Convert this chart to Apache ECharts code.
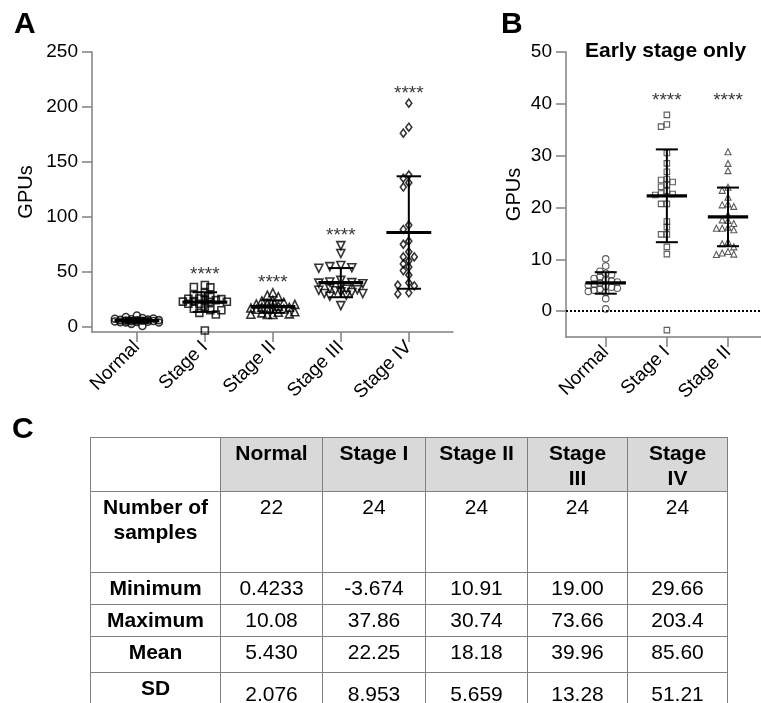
<!DOCTYPE html>
<html>
<head>
<meta charset="utf-8">
<script src="https://cdn.jsdelivr.net/npm/echarts@6/dist/echarts.min.js"></script>
<style>
html,body{margin:0;padding:0;background:#fff;width:761px;height:703px;overflow:hidden;}
#chart{position:absolute;left:0;top:0;width:761px;height:703px;}
#tbl{position:absolute;left:90px;top:437px;border-collapse:collapse;table-layout:fixed;
  font-family:'Liberation Sans',Arial,Helvetica,sans-serif;font-size:21px;color:#000;}
#tbl td{border:1px solid #808080;text-align:center;vertical-align:top;padding:2px 12px 0 12px;line-height:25px;}
#tbl td.hd{background:#d9d9d9;font-weight:bold;}
#tbl td.lb{font-weight:bold;padding-left:4px;padding-right:4px;}
#tbl td.sdv{padding-top:8px;}
</style>
</head>
<body>
<div id="chart"></div>
<table id="tbl"></table>
<script>
// ---------------- data ----------------
const categories = ['Normal', 'Stage I', 'Stage II', 'Stage III', 'Stage IV'];
const normal = [10.08, 8.7, 7.7, 7.3, 7.0, 6.6, 6.3, 6.0, 5.8, 5.6, 5.4, 5.2, 5.0, 4.8, 4.6, 4.4, 4.2, 4.0, 3.8, 3.6, 2.4, 0.4233];
const stage1 = [37.86, 36.0, 35.6, 30.5, 28.5, 26.9, 25.5, 25.3, 24.9, 24.4, 24.0, 23.2, 22.7, 22.6, 22.4, 20.7, 20.7, 17.3, 16.2, 14.8, 14.8, 12.4, 11.0, -3.674];
const stage2 = [30.74, 28.5, 27.1, 23.9, 23.3, 22.0, 20.7, 20.5, 20.2, 18.6, 17.6, 17.5, 16.9, 16.2, 16.0, 16.0, 15.7, 13.4, 13.0, 12.4, 11.5, 11.2, 11.0, 10.91];
const stage3 = [73.66, 66.5, 55.5, 54.5, 53.5, 53.0, 42.0, 40.5, 40.0, 39.5, 39.0, 36.5, 34.5, 34.0, 33.5, 33.0, 32.5, 31.5, 31.0, 30.0, 30.0, 28.5, 27.5, 19.0];
const stage4 = [203.4, 181.5, 176.1, 138.0, 135.0, 131.0, 127.0, 92.4, 88.4, 77.8, 74.9, 68.0, 63.4, 63.4, 59.8, 57.0, 54.3, 50.9, 46.9, 39.8, 37.7, 37.0, 30.7, 29.66];

const nSamples = ['22', '24', '24', '24', '24'];
const minimum = ['0.4233', '-3.674', '10.91', '19.00', '29.66'];
const maximum = ['10.08', '37.86', '30.74', '73.66', '203.4'];
const meanVals = ['5.430', '22.25', '18.18', '39.96', '85.60'];
const sdVals = ['2.076', '8.953', '5.659', '13.28', '51.21'];
const significance = ['', '****', '****', '****', '****'];
const sigLevelB = 40.5;

const yTicksA = [0, 50, 100, 150, 200, 250];
const yTicksB = [0, 10, 20, 30, 40, 50];
const rowLabels = ['Number of<br>samples', 'Minimum', 'Maximum', 'Mean', 'SD'];

// ---------------- layout ----------------
const FONT = "'Liberation Sans', Arial, Helvetica, sans-serif";
const gridA = {left: 92, top: 52, width: 361, height: 280};
const gridB = {left: 566, top: 52, width: 195, height: 285};
const xRangeA = [-0.66, 4.65], yRangeA = [-5, 250];
const xRangeB = [-0.65, 2.54], yRangeB = [-5, 50];
const pxXA = gridA.width / (xRangeA[1] - xRangeA[0]);
const pxYA = gridA.height / (yRangeA[1] - yRangeA[0]);
const pxXB = gridB.width / (xRangeB[1] - xRangeB[0]);
const pxYB = gridB.height / (yRangeB[1] - yRangeB[0]);

// simple beeswarm: horizontal offsets so markers overlap as little as possible
function swarm(vals, pxX, pxY, stepPx, minDist, maxLanes) {
  const order = vals.map((v, i) => i).sort((a, b) => vals[b] - vals[a]);
  const lanes = [0];
  for (let k = 1; k <= maxLanes; k++) lanes.push(-k, k);
  const placed = [], off = new Array(vals.length).fill(0);
  for (const i of order) {
    let chosen = null, best = null, bestD = -1;
    for (const L of lanes) {
      const dx = L * stepPx;
      let d = Infinity;
      placed.forEach(p => { d = Math.min(d, Math.hypot(p.dx - dx, (p.v - vals[i]) * pxY)); });
      if (d >= minDist) { chosen = L; break; }
      if (d > bestD + 0.5) { bestD = d; best = L; }
    }
    if (chosen === null) chosen = best;
    const dx = chosen * stepPx;
    off[i] = dx / pxX;
    placed.push({dx: dx, v: vals[i]});
  }
  return off;
}

const groupsA = [normal, stage1, stage2, stage3, stage4];
const groupsB = [normal, stage1, stage2];
const symA = ['circle', 'rect', 'triangle', 'triangle', 'diamond'];
const sizeA = [7, 7, 8, 8, [6, 8]];
const rotA = [0, 0, 0, 180, 0];
const symB = ['circle', 'rect', 'triangle'];
const sizeB = [6.5, 5.5, 6];

function axisX(gi, range, n) {
  const ticks = [];
  for (let i = 0; i < n; i++) ticks.push(i);
  return {
    type: 'value', gridIndex: gi, min: range[0], max: range[1],
    axisLine: {show: true, onZero: false, lineStyle: {color: '#808080', width: 1.5}},
    axisTick: {show: true, customValues: ticks, length: 10, lineStyle: {color: '#808080', width: 1.5}},
    axisLabel: {customValues: ticks, formatter: v => categories[Math.round(v)], rotate: 45,
      fontSize: 19, color: '#000', fontFamily: FONT, margin: 12},
    splitLine: {show: false}
  };
}
function axisY(gi, range, ticks, gap) {
  return {
    type: 'value', gridIndex: gi, min: range[0], max: range[1],
    name: 'GPUs', nameLocation: 'middle', nameGap: gap, nameRotate: 90,
    nameTextStyle: {fontSize: 20, color: '#000', fontFamily: FONT},
    axisLine: {show: true, onZero: false, lineStyle: {color: '#808080', width: 1.5}},
    axisTick: {show: true, customValues: ticks, length: 10, lineStyle: {color: '#808080', width: 1.5}},
    axisLabel: {customValues: ticks, fontSize: 19, color: '#000', fontFamily: FONT, margin: 14},
    splitLine: {show: false}
  };
}

const series = [];
const markerStyleA = {color: 'rgba(0,0,0,0)', borderColor: '#000', borderWidth: 1.6};
const markerStyleB = {color: 'rgba(0,0,0,0)', borderColor: '#333', borderWidth: 1.1};

groupsA.forEach((vals, g) => {
  const off = swarm(vals, pxXA, pxYA, 5.5, 6, 4);
  series.push({
    type: 'scatter', xAxisIndex: 0, yAxisIndex: 0, silent: true, z: 2,
    symbol: symA[g], symbolSize: sizeA[g], symbolRotate: rotA[g],
    itemStyle: markerStyleA,
    data: vals.map((v, i) => [g + off[i], v])
  });
});
groupsB.forEach((vals, g) => {
  const off = swarm(vals, pxXB, pxYB, 5.8, 5.6, 3);
  const s = {
    type: 'scatter', xAxisIndex: 1, yAxisIndex: 1, silent: true, z: 2,
    symbol: symB[g], symbolSize: sizeB[g],
    itemStyle: markerStyleB,
    data: vals.map((v, i) => [g + off[i], v])
  };
  if (g === 0) {
    s.markLine = {silent: true, symbol: ['none', 'none'], label: {show: false},
      lineStyle: {type: 'dotted', color: '#000', width: 2}, data: [{yAxis: 0}]};
  }
  series.push(s);
});

function meanSd(xi, n) {
  return {
    type: 'custom', xAxisIndex: xi, yAxisIndex: xi, silent: true, z: 5,
    data: categories.slice(0, n).map((c, i) => [i, parseFloat(meanVals[i]), parseFloat(sdVals[i])]),
    renderItem: function (params, api) {
      const x = api.value(0), m = api.value(1), s = api.value(2);
      const ml = api.coord([x - 0.33, m]), mr = api.coord([x + 0.33, m]);
      const t = api.coord([x, m + s]), b = api.coord([x, m - s]);
      const tl = api.coord([x - 0.18, m + s]), tr = api.coord([x + 0.18, m + s]);
      const bl = api.coord([x - 0.18, m - s]), br = api.coord([x + 0.18, m - s]);
      const st = {stroke: '#000', lineWidth: 2};
      return {type: 'group', children: [
        {type: 'line', shape: {x1: t[0], y1: t[1], x2: b[0], y2: b[1]}, style: st},
        {type: 'line', shape: {x1: tl[0], y1: tl[1], x2: tr[0], y2: tr[1]}, style: st},
        {type: 'line', shape: {x1: bl[0], y1: bl[1], x2: br[0], y2: br[1]}, style: st},
        {type: 'line', shape: {x1: ml[0], y1: ml[1], x2: mr[0], y2: mr[1]}, style: {stroke: '#000', lineWidth: 3.2}}
      ]};
    }
  };
}
series.push(meanSd(0, 5));
series.push(meanSd(1, 3));

const sigLabel = {show: true, position: 'inside', formatter: p => p.name, fontSize: 19, color: '#000', fontFamily: FONT};
series.push({
  type: 'scatter', xAxisIndex: 0, yAxisIndex: 0, silent: true, symbolSize: 0, z: 6, label: sigLabel,
  data: categories.map((c, i) => ({name: significance[i], value: [i, parseFloat(maximum[i]) + 9]})).filter(d => d.name)
});
series.push({
  type: 'scatter', xAxisIndex: 1, yAxisIndex: 1, silent: true, symbolSize: 0, z: 6, label: sigLabel,
  data: categories.slice(0, 3).map((c, i) => ({name: significance[i], value: [i, sigLevelB]})).filter(d => d.name)
});

const titleStyle = (size) => ({fontSize: size, fontWeight: 'bold', color: '#000', fontFamily: FONT});
const option = {
  animation: false,
  backgroundColor: '#fff',
  title: [
    {text: 'A', left: 14, top: 10, padding: 0, textStyle: titleStyle(30)},
    {text: 'B', left: 501, top: 10, padding: 0, textStyle: titleStyle(30)},
    {text: 'Early stage only', left: 585, top: 41, padding: 0, textStyle: titleStyle(21)},
    {text: 'C', left: 12, top: 415, padding: 0, textStyle: titleStyle(30)}
  ],
  grid: [
    Object.assign({containLabel: false}, gridA),
    Object.assign({containLabel: false}, gridB)
  ],
  xAxis: [axisX(0, xRangeA, 5), axisX(1, xRangeB, 3)],
  yAxis: [axisY(0, yRangeA, yTicksA, 56), axisY(1, yRangeB, yTicksB, 42)],
  series: series
};
const chart = echarts.init(document.getElementById('chart'), null, {renderer: 'canvas'});
chart.setOption(option);

// ---------------- table ----------------
const tbl = document.getElementById('tbl');
const colW = [130, 102, 103, 102, 100, 100];
const rowH = [54, 81, 32, 32, 36, 40];
let html = '<colgroup>' + colW.map(w => '<col style="width:' + w + 'px">').join('') + '</colgroup>';
html += '<tr style="height:' + rowH[0] + 'px"><td></td>' + categories.map(c => '<td class="hd">' + c + '</td>').join('') + '</tr>';
const rows = [nSamples, minimum, maximum, meanVals, sdVals];
rows.forEach((r, k) => {
  html += '<tr style="height:' + rowH[k + 1] + 'px"><td class="lb">' + rowLabels[k] + '</td>' +
    r.map(v => '<td' + (k === 4 ? ' class="sdv"' : '') + '>' + v + '</td>').join('') + '</tr>';
});
tbl.innerHTML = html;
</script>
</body>
</html>
